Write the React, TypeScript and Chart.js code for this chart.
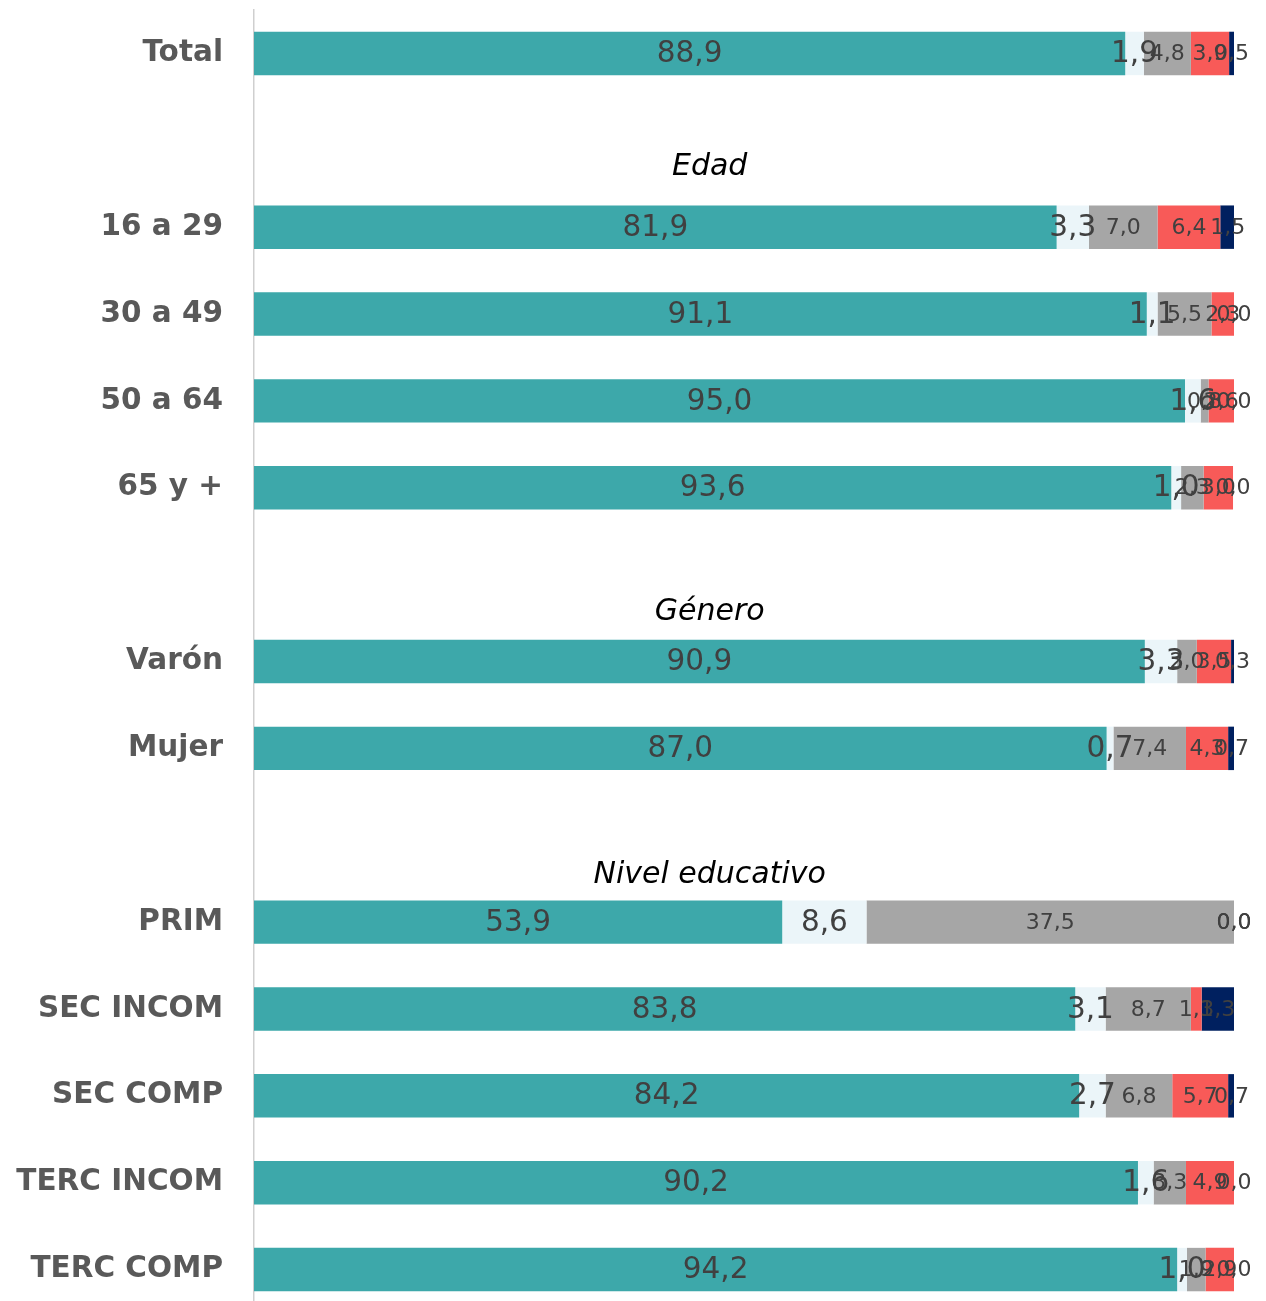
import { useEffect, useRef } from 'react';
import { Chart, registerables } from 'chart.js';

Chart.register(...registerables);

const categories = ['Total', '', '16 a 29', '30 a 49', '50 a 64', '65 y +', '', 'Varón', 'Mujer', '', 'PRIM', 'SEC INCOM', 'SEC COMP', 'TERC INCOM', 'TERC COMP'];

const serie1 = [88.9, null, 81.9, 91.1, 95.0, 93.6, null, 90.9, 87.0, null, 53.9, 83.8, 84.2, 90.2, 94.2];
const serie2 = [1.9, null, 3.3, 1.1, 1.6, 1.0, null, 3.3, 0.7, null, 8.6, 3.1, 2.7, 1.6, 1.0];
const serie3 = [4.8, null, 7.0, 5.5, 0.8, 2.3, null, 2.0, 7.4, null, 37.5, 8.7, 6.8, 3.3, 1.9];
const serie4 = [3.9, null, 6.4, 2.3, 2.6, 3.0, null, 3.5, 4.3, null, 0.0, 1.1, 5.7, 4.9, 2.9];
const serie5 = [0.5, null, 1.5, 0.0, 0.0, 0.0, null, 0.3, 0.7, null, 0.0, 3.3, 0.7, 0.0, 0.0];

const seriesNames = ['Serie 1', 'Serie 2', 'Serie 3', 'Serie 4', 'Serie 5'];
const seriesColors = ['#3DA8AA', '#EBF5F9', '#A6A6A6', '#F85A58', '#00205F'];
const labelSizes = [29.5, 29.5, 22, 22, 22];

const headings = ['Edad', 'Género', 'Nivel educativo'];
const headingRows = [1, 6, 9];
const headingShift = [0.31, 0.43, 0.46];

const fmt = (v: number) => v.toFixed(1).replace('.', ',');

const barLabels = {
  id: 'barLabels',
  afterDatasetsDraw(chart: any) {
    const ctx = chart.ctx;
    chart.data.datasets.forEach((ds: any, i: number) => {
      const meta = chart.getDatasetMeta(i);
      ctx.save();
      ctx.font = `${labelSizes[i]}px "DejaVu Sans"`;
      ctx.fillStyle = '#404040';
      ctx.textAlign = 'center';
      ctx.textBaseline = 'middle';
      meta.data.forEach((el: any, j: number) => {
        const v = ds.data[j];
        if (v == null) return;
        const p = el.getProps(['x', 'base', 'y'], true);
        ctx.fillText(fmt(v), (p.x + p.base) / 2, p.y + 1);
      });
      ctx.restore();
    });
  },
};

const headingPlugin = {
  id: 'headings',
  afterDraw(chart: any) {
    const ctx = chart.ctx;
    const xs = chart.scales.x;
    const ys = chart.scales.y;
    const step = ys.getPixelForValue(1) - ys.getPixelForValue(0);
    ctx.save();
    ctx.font = 'italic 30px "DejaVu Sans"';
    ctx.fillStyle = '#000000';
    ctx.textAlign = 'center';
    ctx.textBaseline = 'middle';
    headings.forEach((h, k) => {
      const y = ys.getPixelForValue(headingRows[k]) + headingShift[k] * step;
      ctx.fillText(h, xs.getPixelForValue(46.5), y);
    });
    ctx.restore();
  },
};

export default function App() {
  const ref = useRef<HTMLCanvasElement>(null);
  useEffect(() => {
    if (!ref.current) return;
    const data = [serie1, serie2, serie3, serie4, serie5];
    const chart = new Chart(ref.current, {
      type: 'bar',
      data: {
        labels: categories,
        datasets: data.map((d, i) => ({
          label: seriesNames[i],
          data: d,
          backgroundColor: seriesColors[i],
          borderWidth: 0,
          barPercentage: 0.5,
          categoryPercentage: 1,
        })),
      },
      options: {
        indexAxis: 'y',
        responsive: false,
        animation: false,
        maintainAspectRatio: false,
        layout: { padding: { top: 10, right: 32, left: 0, bottom: 0 } },
        plugins: { legend: { display: false }, tooltip: { enabled: false } },
        scales: {
          x: { stacked: true, min: 0, max: 100, display: false },
          y: {
            stacked: true,
            grid: { display: false, drawTicks: false },
            border: { display: true, color: '#CFCFCF', width: 1.5 },
            ticks: {
              color: '#595959',
              padding: 31,
              font: { family: '"DejaVu Sans"', size: 29.5, weight: 'bold' },
            },
            afterFit(scale: any) {
              scale.width = 254;
              scale.paddingTop = 0;
              scale.paddingBottom = 0;
            },
          },
        },
      },
      plugins: [barLabels, headingPlugin],
    } as any);
    return () => chart.destroy();
  }, []);
  return (
    <div style={{ position: 'fixed', top: 0, left: 0, width: 1266, height: 1301, overflow: 'hidden', background: '#fff' }}>
      <canvas ref={ref} width={1266} height={1313} style={{ display: 'block' }} />
    </div>
  );
}
